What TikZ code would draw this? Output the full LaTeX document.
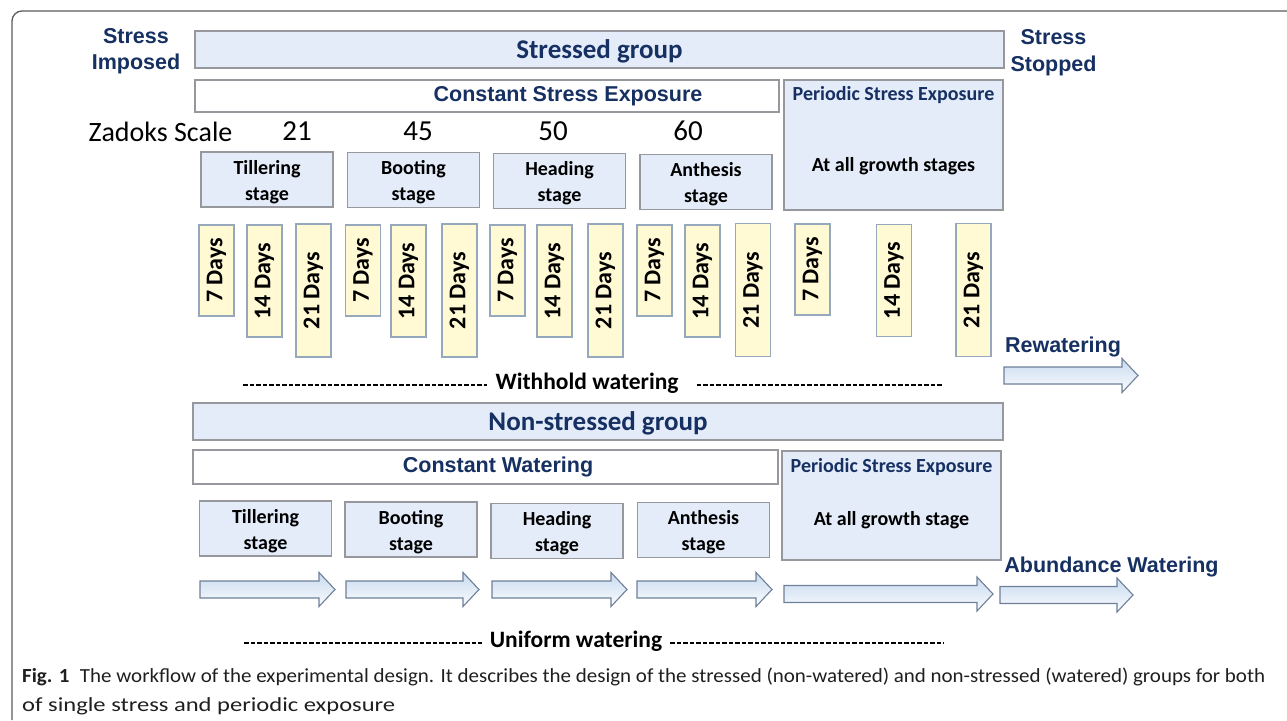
\documentclass[tikz,border=0pt]{standalone}
\usepackage{fontspec}
\setmainfont{Carlito}
\newfontfamily\arialfont{Liberation Sans}
\usepackage{graphicx}
\usetikzlibrary{positioning}
\definecolor{navytext}  {RGB}{ 22, 48, 98}
\definecolor{boxblue}   {RGB}{228,236,250}
\definecolor{boxgray}   {RGB}{150,152,158}
\definecolor{dayyellow} {RGB}{255,249,212}
\definecolor{dayedge}   {RGB}{150,168,188}
\definecolor{arrowblue} {RGB}{200,218,240}
\definecolor{arrowedge} {RGB}{110,128,152}
\definecolor{framegray} {RGB}{ 90, 90, 90}

\newcommand{\setfs}[2][1.25]{\fontsize{#2}{#1\dimexpr #2pt\relax}\selectfont}
%% two-line stage label, set a little below the box centre
\newcommand{\stagetxt}[1]{\raisebox{-2.5pt}[\height][\depth]{\begin{tabular}{@{}c@{}}#1\end{tabular}}}
%% block arrow: x start, x end, y centre
\newcommand{\waterarrow}[3]{%
  \draw[blockarrow] (#1,#3-8.5) -- (#2-16,#3-8.5) -- (#2-16,#3-17) -- (#2,#3)
    -- (#2-16,#3+17) -- (#2-16,#3+8.5) -- (#1,#3+8.5) -- cycle;}
%% caption lines, squeezed to the widths of the printed lines
\newcommand{\capline}[2]{\resizebox{#1}{\height}{#2}}

\begin{document}
\begin{tikzpicture}[x=1pt,y=-1pt,
  every node/.style={inner sep=0pt},
  grpbox/.style={draw=boxgray,line width=1.6pt,fill=boxblue},
  whitebox/.style={draw=boxgray,line width=1.6pt,fill=white},
  stagebox/.style={draw=boxgray,line width=1.6pt,fill=boxblue,
                   minimum width=132,minimum height=55,
                   font=\setfs[1.3]{20}\bfseries},
  daybox/.style={draw=dayedge,line width=1.4pt,fill=dayyellow,rotate=90,
                 minimum height=35,font=\setfs{24}\bfseries},
  hdrtxt/.style={font=\setfs{27}\bfseries,text=navytext},
  arialtxt/.style={font=\arialfont\setfs[1.2]{21.5}\bfseries,text=navytext,align=center},
  stoptxt/.style={arialtxt,font=\arialfont\setfs[1.26]{21.5}\bfseries},
  ptitle/.style={font=\setfs{20}\bfseries,text=navytext},
  pbody/.style={font=\setfs{20}\bfseries},
  zadoks/.style={font=\setfs{29},anchor=base},
  waterlbl/.style={font=\setfs{23.5}\bfseries},
  dashline/.style={line width=1.8pt,dash pattern=on 4.5pt off 2pt},
  blockarrow/.style={draw=arrowedge,line width=1.1pt,top color=arrowblue,
                     bottom color=white!92!arrowblue,line join=miter},
  captxt/.style={anchor=base west,font=\setfs{20},text=black!88},
]
\useasboundingbox (0,0) rectangle (1287,720);

%% outer frame
\draw[framegray,line width=1.3pt] (12,720) -- (12,21)
  arc[start angle=180,end angle=270,radius=10] -- (1287,11);

%% Stressed group
\node[arialtxt] (imposed) at (136,51.5) {Stress\\Imposed};
\node[stoptxt] (stopped) at (1053.5,53) {Stress\\Stopped};
\node[grpbox,minimum width=809,minimum height=37] (stressed) at (599.5,49.5) {};
\node[hdrtxt] (stressedlbl) at (599.5,51) {Stressed group};

\node[whitebox,minimum width=584,minimum height=32] (cse) at (487,96) {};
\node[arialtxt] (cselbl) at (568,96) {Constant Stress Exposure};

\node[grpbox,minimum width=219,minimum height=130] (pse1) at (893.5,145) {};
\node[ptitle] (pse1t) at (893.5,95) {Periodic Stress Exposure};
\node[pbody] (pse1b) at (893.5,166) {At all growth stages};

%% Zadoks scale
\node[zadoks,font=\setfs{28}] (zs) at (160.5,141) {Zadoks Scale};
\node[zadoks] (z21) at (297,140) {21};
\node[zadoks] (z45) at (418,140) {45};
\node[zadoks] (z50) at (553,140) {50};
\node[zadoks] (z60) at (688,140) {60};

%% growth stages (stressed)
\node[stagebox] (till1) at (267,179.5)   {\stagetxt{Tillering\\stage}};
\node[stagebox] (boot1) at (413.5,180)   {\stagetxt{Booting\\stage}};
\node[stagebox] (head1) at (559.5,181)   {\stagetxt{Heading\\stage}};
\node[stagebox] (anth1) at (706,182)     {\stagetxt{Anthesis\\stage}};

%% exposure periods
\node[daybox,minimum width=91]  (t7)  at (216.5,270.5) {7 Days};
\node[daybox,minimum width=112] (t14) at (264.5,281)   {14 Days};
\node[daybox,minimum width=133] (t21) at (313.5,290.5) {21 Days};
\node[daybox,minimum width=91]  (b7)  at (363,270.5)   {7 Days};
\node[daybox,minimum width=112] (b14) at (408.5,281)   {14 Days};
\node[daybox,minimum width=133] (b21) at (459.5,290.5) {21 Days};
\node[daybox,minimum width=91]  (h7)  at (507.5,270.5) {7 Days};
\node[daybox,minimum width=112] (h14) at (554.5,281)   {14 Days};
\node[daybox,minimum width=133] (h21) at (605.5,290.5) {21 Days};
\node[daybox,minimum width=91]  (a7)  at (654.5,270.5) {7 Days};
\node[daybox,minimum width=112] (a14) at (702.5,281)   {14 Days};
\node[daybox,minimum width=133] (a21) at (753,290)     {21 Days};
\node[daybox,minimum width=91]  (p7)  at (812.5,269.5) {7 Days};
\node[daybox,minimum width=112] (p14) at (894,280.5)   {14 Days};
\node[daybox,minimum width=133] (p21) at (973.5,290)   {21 Days};

%% withhold watering
\node[waterlbl] (withhold) at (587,383) {Withhold watering};
\coordinate (wl) at (243,385);
\coordinate (wr) at (943,385);
\draw[dashline] (wl) -- ([xshift=-8pt,yshift=-2pt]withhold.west);
\draw[dashline] ([xshift=18pt,yshift=-2pt]withhold.east) -- (wr);

\node[arialtxt] (rewater) at (1063,347) {Rewatering};
\waterarrow{1004}{1138}{375.5}

%% Non-stressed group
\node[grpbox,minimum width=810,minimum height=37] (nonstressed) at (598,421.5) {};
\node[hdrtxt] (nonstressedlbl) at (598,423) {Non-stressed group};

\node[whitebox,minimum width=585,minimum height=34] (cw) at (485.5,467) {};
\node[arialtxt] (cwlbl) at (498,467) {Constant Watering};

\node[grpbox,minimum width=219,minimum height=109] (pse2) at (891.5,505.5) {};
\node[ptitle] (pse2t) at (891.5,467) {Periodic Stress Exposure};
\node[pbody] (pse2b) at (891.5,520) {At all growth stage};

%% growth stages (watered)
\node[stagebox] (till2) at (265.5,528.5) {\stagetxt{Tillering\\stage}};
\node[stagebox] (boot2) at (411,529.5)   {\stagetxt{Booting\\stage}};
\node[stagebox] (head2) at (557,531)     {\stagetxt{Heading\\stage}};
\node[stagebox] (anth2) at (703.5,530)   {\stagetxt{Anthesis\\stage}};

\waterarrow{200}{335}{589.5}
\waterarrow{346}{479}{589.5}
\waterarrow{492}{627}{589.5}
\waterarrow{637}{772}{589.5}
\waterarrow{784}{993}{594}
\waterarrow{1000}{1133}{595}
\node[arialtxt] (abundance) at (1111.5,567) {Abundance Watering};

%% uniform watering
\node[waterlbl] (uniform) at (576,641) {Uniform watering};
\coordinate (ul) at (244,643);
\coordinate (ur) at (944,643);
\draw[dashline] (ul) -- ([xshift=-8pt,yshift=-2pt]uniform.west);
\draw[dashline] ([xshift=8pt,yshift=-2pt]uniform.east) -- (ur);

%% caption
\node[captxt] (cap1) at (22,682) {\capline{1243pt}{\textbf{Fig. 1}\enspace The workflow of the experimental design. It describes the design of the stressed (non-watered) and non-stressed (watered) groups for both}};
\node[captxt] (cap2) at (22,711) {\capline{373pt}{of single stress and periodic exposure}};

\end{tikzpicture}
\end{document}
